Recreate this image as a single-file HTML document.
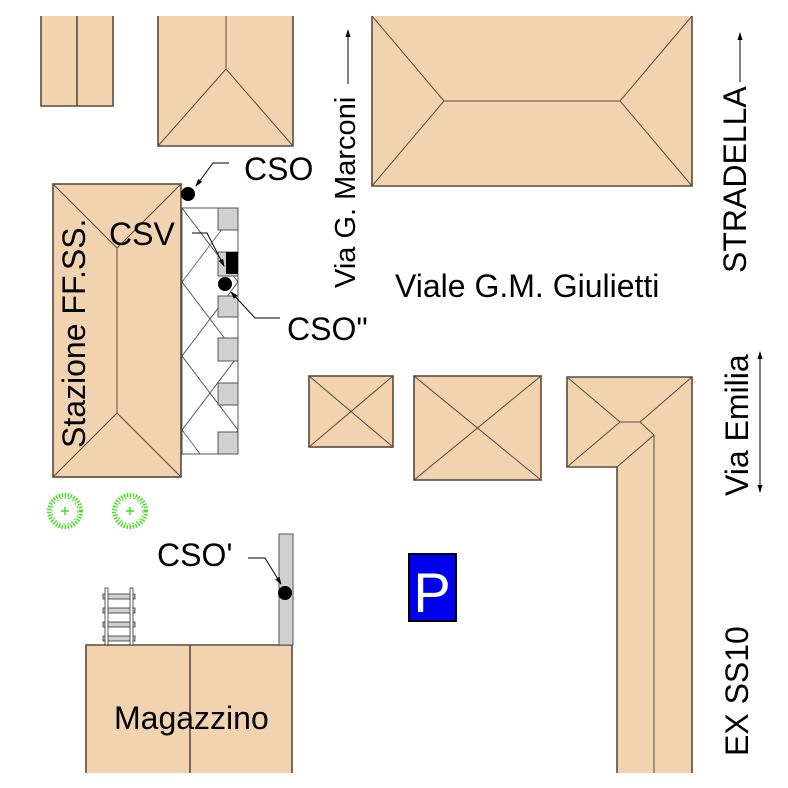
<!DOCTYPE html>
<html><head><meta charset="utf-8"><style>
html,body{margin:0;padding:0;background:#fff;}
svg{display:block;}
text{font-family:"Liberation Sans",sans-serif;fill:#000;}
</style></head><body>
<svg width="788" height="788" viewBox="0 0 788 788" xmlns="http://www.w3.org/2000/svg">
<defs>
<clipPath id="pc"><rect x="182" y="208" width="56" height="246"/></clipPath>
<marker id="ar" markerWidth="8" markerHeight="8" refX="7" refY="4" orient="auto"><path d="M0,1.5 L8,4 L0,6.5 Z" fill="#000"/></marker>
</defs>
<g fill="#f2d3b0" stroke="#5a4a3e" stroke-width="1.6">
<path d="M41,16 V106 H113 V16"/>
<line x1="77" y1="16" x2="77" y2="106"/>
<path d="M158,16 V146 H293 V16"/>
<polyline fill="none" stroke-width="1" points="226,16 226,69"/>
<polyline fill="none" stroke-width="1" points="158,146 226,69 293,146"/>
<path d="M372,16 V186 H692 V16"/>
<polyline fill="none" stroke-width="1" points="372,16 444,101 372,186"/>
<polyline fill="none" stroke-width="1" points="692,16 620,101 692,186"/>
<line stroke-width="1" x1="444" y1="101" x2="620" y2="101"/>
<rect x="53" y="184" width="128" height="293"/>
<polyline fill="none" stroke-width="1" points="53,184 117,248 181,184"/>
<polyline fill="none" stroke-width="1" points="53,477 117,413 181,477"/>
<line stroke-width="1" x1="117" y1="248" x2="117" y2="413"/>
<rect x="309" y="376" width="84" height="71"/>
<line stroke-width="1" x1="309" y1="376" x2="393" y2="447"/>
<line stroke-width="1" x1="393" y1="376" x2="309" y2="447"/>
<rect x="414" y="376" width="127" height="104"/>
<line stroke-width="1" x1="414" y1="376" x2="541" y2="480"/>
<line stroke-width="1" x1="541" y1="376" x2="414" y2="480"/>
<polygon stroke="none" points="567,377 692,377 692,773 617,773 617,467 567,467"/>
<polyline fill="none" points="617,773 617,467 567,467 567,377 692,377 692,773"/>
<polyline fill="none" stroke-width="1" points="567,377 620,422 640,422 692,377"/>
<polyline fill="none" stroke-width="1" points="567,467 620,422"/>
<polyline fill="none" stroke-width="1" points="617,467 654,435 640,422"/>
<line stroke-width="1" x1="654" y1="435" x2="654" y2="773"/>
<path d="M86,773 V645 H292 V773"/>
<line x1="190" y1="645" x2="190" y2="773"/>
</g>
<rect x="182" y="208" width="56" height="246" fill="#fff" stroke="#555" stroke-width="1"/>
<g clip-path="url(#pc)" stroke="#555" stroke-width="0.8" fill="none">
<polyline points="182,208 238,282 182,356 238,430 182,504"/>
<polyline points="238,134 182,208 238,282 182,356 238,430"/>
<polyline points="182,282 238,356 182,430 238,504"/>
<polyline points="238,208 182,282 238,356 182,430"/>
</g>
<g fill="#d0d0d0" stroke="#555" stroke-width="1">
<rect x="218" y="208" width="20" height="22"/>
<rect x="218" y="252" width="20" height="24"/>
<rect x="218" y="296" width="20" height="21"/>
<rect x="218" y="338" width="20" height="23"/>
<rect x="218" y="383" width="20" height="22"/>
<rect x="218" y="432" width="20" height="22"/>
</g>
<rect x="226" y="252" width="12" height="22" fill="#000"/>
<rect x="279" y="534" width="14" height="111" fill="#d0d0d0" stroke="#555" stroke-width="1"/>
<circle cx="188" cy="194" r="7" fill="#000"/>
<circle cx="225" cy="284" r="7" fill="#000"/>
<circle cx="285" cy="593" r="7" fill="#000"/>
<g stroke="#000" stroke-width="1" fill="none">
<polyline points="229,163 213,163 196,186" marker-end="url(#ar)"/>
<polyline points="192,233 207,233 224,266" marker-end="url(#ar)"/>
<polyline points="280,318 255,318 231,292" marker-end="url(#ar)"/>
<polyline points="248,558 265,558 281,584" marker-end="url(#ar)"/>
<line x1="348" y1="84" x2="348" y2="30" marker-end="url(#ar)"/>
<line x1="740" y1="82" x2="740" y2="33" marker-end="url(#ar)"/>
<line x1="760" y1="420" x2="760" y2="352" marker-end="url(#ar)"/>
<line x1="760" y1="420" x2="760" y2="492" marker-end="url(#ar)"/>
</g>
<g stroke="#44dd22" fill="none">
<circle cx="65" cy="511" r="16" stroke-width="4" stroke-dasharray="1.5 1.5"/>
<circle cx="65" cy="511" r="13" stroke-width="1" stroke-dasharray="2 2"/>
<circle cx="130" cy="511" r="16" stroke-width="4" stroke-dasharray="1.5 1.5"/>
<circle cx="130" cy="511" r="13" stroke-width="1" stroke-dasharray="2 2"/>
<path stroke-width="1.5" d="M61,511 h8 M65,507 v8 M126,511 h8 M130,507 v8"/>
</g>
<g fill="#d0d0d0" stroke="#333" stroke-width="0.8">
<rect x="103" y="594" width="32" height="5"/>
<rect x="103" y="608" width="32" height="5"/>
<rect x="103" y="622" width="32" height="5"/>
<rect x="103" y="636" width="32" height="5"/>
</g>
<g fill="#fff" stroke="#333" stroke-width="0.8">
<rect x="105" y="588" width="3" height="57"/>
<rect x="130" y="588" width="3" height="57"/>
</g>
<rect x="409" y="554" width="47" height="67" fill="#0000ee" stroke="#000" stroke-width="2"/>
<text x="432" y="612" text-anchor="middle" font-size="56" style="fill:#fff">P</text>
<g font-size="32">
<text x="244" y="180">CSO</text>
<text x="109" y="245">CSV</text>
<text x="287" y="340">CSO"</text>
<text x="157" y="566">CSO'</text>
<text x="114" y="729">Magazzino</text>
<text x="395" y="297">Viale G.M. Giulietti</text>
<text font-size="29" transform="translate(355,288) rotate(-90)">Via G. Marconi</text>
<text transform="translate(746,273) rotate(-90)">STRADELLA</text>
<text transform="translate(748,496) rotate(-90)">Via Emilia</text>
<text transform="translate(748,756) rotate(-90)">EX SS10</text>
<text transform="translate(85,448) rotate(-90)">Stazione FF.SS.</text>
</g>
</svg>
</body></html>
